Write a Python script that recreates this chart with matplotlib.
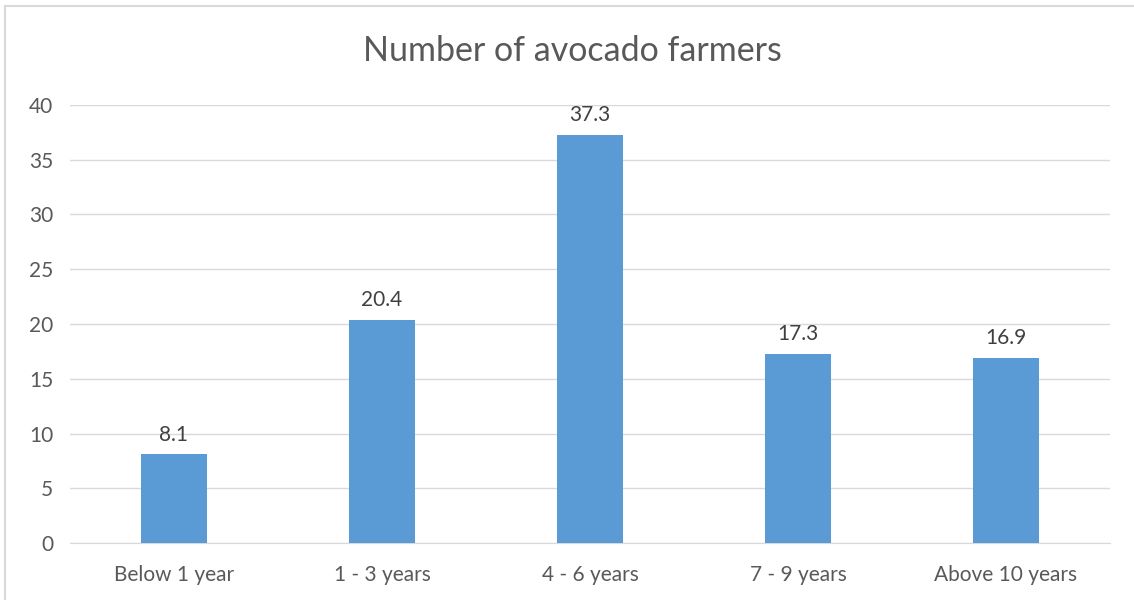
import numpy as np
import matplotlib
matplotlib.use("Agg")
import matplotlib.pyplot as plt
from matplotlib.lines import Line2D

categories = ["Below 1 year", "1 - 3 years", "4 - 6 years", "7 - 9 years", "Above 10 years"]
values = [8.1, 20.4, 37.3, 17.3, 16.9]
yticks = [0, 5, 10, 15, 20, 25, 30, 35, 40]

plt.rcParams['font.family'] = ['Lato', 'DejaVu Sans']
text_col = "#595959"

fig = plt.figure(figsize=(11.34, 6.0), dpi=100)
ax = fig.add_axes([70/1134, 1 - 543/600, 1040/1134, 438/600])

x = np.arange(len(categories))
ax.bar(x, values, width=0.32, color="#5B9BD5", zorder=3)

# value labels above bars
for xi, v in zip(x, values):
    ax.annotate(f"{v}", (xi, v), xytext=(0, 7), textcoords="offset points",
                ha="center", va="bottom", fontsize=15, color="#404040")

ax.set_xlim(-0.5, len(categories) - 0.5)
ax.set_ylim(0, 40)
ax.set_yticks(yticks)
ax.set_xticks(x)
ax.set_xticklabels(categories)
ax.grid(axis="y", color="#D9D9D9", linewidth=1.0, zorder=0)
ax.tick_params(axis="both", length=0, labelsize=15, colors=text_col)
ax.tick_params(axis="y", pad=12)
ax.tick_params(axis="x", pad=16)
for s in ["top", "right", "left"]:
    ax.spines[s].set_visible(False)
ax.spines["bottom"].set_color("#D9D9D9")

fig.text(572/1134, 1 - 51/600, "Number of avocado farmers", ha="center", va="center",
         fontsize=24.5, color=text_col)

# chart area border (top and left edges visible)
fig.add_artist(Line2D([5/1134, 5/1134], [0, 1 - 6/600], transform=fig.transFigure,
                      color="#D9D9D9", linewidth=1.5))
fig.add_artist(Line2D([5/1134, 1], [1 - 6/600, 1 - 6/600], transform=fig.transFigure,
                      color="#D9D9D9", linewidth=1.5))

fig.savefig("out.png", dpi=100)
